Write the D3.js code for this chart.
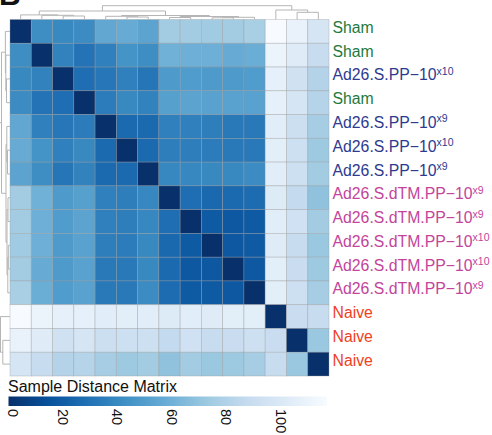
<!DOCTYPE html>
<html>
<head>
<meta charset="utf-8">
<script src="https://cdn.jsdelivr.net/npm/d3@7"></script>
<style>
  html, body { margin: 0; padding: 0; background: #fff; }
  svg { display: block; font-family: 'Liberation Sans', Arial, Helvetica, sans-serif; }
</style>
</head>
<body>
<div id="chart"></div>
<script>
// sample order (rows == columns)
const sampleNames = [
  'Sham', 'Sham', 'Ad26.S.PP\u221210', 'Sham', 'Ad26.S.PP\u221210',
  'Ad26.S.PP\u221210', 'Ad26.S.PP\u221210', 'Ad26.S.dTM.PP\u221210', 'Ad26.S.dTM.PP\u221210',
  'Ad26.S.dTM.PP\u221210', 'Ad26.S.dTM.PP\u221210', 'Ad26.S.dTM.PP\u221210',
  'Naive', 'Naive', 'Naive',
];
const doses = ['', '', 'x10', '', 'x9', 'x10', 'x9', 'x9', 'x9', 'x10', 'x10', 'x9', '', '', ''];
const groups = [
  'Sham', 'Sham', 'PP', 'Sham', 'PP', 'PP', 'PP',
  'dTM', 'dTM', 'dTM', 'dTM', 'dTM', 'Naive', 'Naive', 'Naive',
];
const groupColors = { Sham: '#1f7a3c', PP: '#2e3a8e', dTM: '#c2449b', Naive: '#ee3f22' };

// sample distance matrix
const distances = [
  [0, 42, 40, 41, 55, 57, 53, 75, 75, 74, 75, 77, 118, 109, 97],
  [42, 0, 37, 30, 36, 45, 42, 60, 59, 59, 57, 58, 110, 103, 89],
  [40, 37, 0, 28, 32, 36, 31, 48, 49, 48, 48, 49, 107, 94, 81],
  [41, 30, 28, 0, 34, 40, 37, 51, 53, 52, 52, 52, 107, 97, 82],
  [55, 36, 32, 34, 0, 26, 26, 36, 36, 35, 33, 33, 104, 91, 76],
  [57, 45, 36, 40, 26, 0, 26, 35, 35, 34, 33, 33, 105, 92, 73],
  [53, 42, 31, 37, 26, 26, 0, 39, 39, 40, 40, 41, 104, 92, 75],
  [75, 60, 48, 51, 36, 35, 39, 0, 28, 25, 26, 27, 102, 87, 69],
  [75, 59, 49, 53, 36, 35, 39, 28, 0, 19, 18, 19, 104, 93, 75],
  [74, 59, 48, 52, 35, 34, 40, 25, 19, 0, 18, 19, 103, 89, 72],
  [75, 57, 48, 52, 33, 33, 40, 26, 18, 18, 0, 18, 105, 90, 73],
  [77, 58, 49, 52, 33, 33, 41, 27, 19, 19, 18, 0, 105, 92, 76],
  [118, 110, 107, 107, 104, 105, 104, 102, 104, 103, 105, 105, 0, 90, 89],
  [109, 103, 94, 97, 91, 92, 92, 87, 93, 89, 90, 92, 90, 0, 72],
  [97, 89, 81, 82, 76, 73, 75, 69, 75, 72, 73, 76, 89, 72, 0],
];

// clustering tree: [left, right, height]; leaves are sample indices
const tree = [
  [
    [0, [1, [2, 3, 3.5], 4.2], 4.6],
    [[4, [5, 6, 2.5], 3.2], [[7, 8, 2.0], [[9, 10, 1.7], 11, 2.2], 3.0], 4.0],
    8.5,
  ],
  [12, [13, 14, 7.2], 9.5],
  13.8,
];

const legendTicks = [0, 20, 40, 60, 80, 100];
const maxDist = 117;
const blues = ['#08306b', '#08519c', '#2171b5', '#4292c6', '#6baed6', '#9ecae1', '#c6dbef', '#deebf7', '#f7fbff'];

const width = 492;
const height = 435;
const heat = { left: 10, right: 329, top: 19.5, bottom: 376 };

const svg = d3
  .select('#chart')
  .append('svg')
  .attr('width', width)
  .attr('height', height);

const x = d3.scaleBand().domain(d3.range(sampleNames.length)).range([heat.left, heat.right]);
const y = d3.scaleBand().domain(d3.range(sampleNames.length)).range([heat.top, heat.bottom]);

const color = d3
  .scaleLinear()
  .domain(blues.map((d, i) => (i * maxDist) / (blues.length - 1)))
  .range(blues)
  .interpolate(d3.interpolateRgb)
  .clamp(true);

function renderHeatmap() {
  const cells = distances.flatMap((row, i) => row.map((v, j) => ({ i, j, v })));
  svg
    .append('g')
    .attr('class', 'cells')
    .selectAll('rect')
    .data(cells)
    .join('rect')
    .attr('x', (d) => x(d.j))
    .attr('y', (d) => y(d.i))
    .attr('width', x.bandwidth())
    .attr('height', y.bandwidth())
    .attr('fill', (d) => color(d.v))
    .attr('stroke', '#9a9a9a')
    .attr('stroke-opacity', 0.5)
    .attr('stroke-width', 0.7);
}

function renderLabels() {
  svg
    .append('g')
    .attr('class', 'row-labels')
    .selectAll('text')
    .data(sampleNames)
    .join('text')
    .attr('x', heat.right + 3.5)
    .attr('y', (d, i) => y(i) + y.bandwidth() / 2 - 4)
    .attr('dy', '0.35em')
    .attr('font-size', 15.8)
    .attr('fill', (d, i) => groupColors[groups[i]])
    .each(function (d, i) {
      const t = d3.select(this);
      t.append('tspan').text(d);
      if (doses[i]) {
        t.append('tspan').attr('font-size', 10.5).attr('dy', -5.5).text(doses[i]);
      }
    });
}

function renderDendrograms() {
  const segs = [];
  // positions in band-index units
  function walk(node) {
    if (typeof node === 'number') return { pos: node + 0.5, h: 0 };
    const [a, b, h] = node;
    const l = walk(a);
    const r = walk(b);
    segs.push([l.pos, l.h, l.pos, h]);
    segs.push([r.pos, r.h, r.pos, h]);
    segs.push([l.pos, h, r.pos, h]);
    return { pos: (l.pos + r.pos) / 2, h };
  }
  walk(tree);

  const colPos = d3.scaleLinear().domain([0, sampleNames.length]).range([heat.left, heat.right]);
  const rowPos = d3.scaleLinear().domain([0, sampleNames.length]).range([heat.top, heat.bottom]);
  const colH = d3.scaleLinear().domain([0, 13.8]).range([heat.top, 5.7]);
  const rowH = d3.scaleLinear().domain([0, 13.8]).range([heat.left, heat.left - 13.8]);

  svg
    .append('g')
    .attr('class', 'col-tree')
    .selectAll('line')
    .data(segs)
    .join('line')
    .attr('x1', (d) => colPos(d[0]))
    .attr('y1', (d) => colH(d[1]))
    .attr('x2', (d) => colPos(d[2]))
    .attr('y2', (d) => colH(d[3]))
    .attr('stroke', '#b5b5b5')
    .attr('stroke-width', 1);

  svg
    .append('g')
    .attr('class', 'row-tree')
    .selectAll('line')
    .data(segs)
    .join('line')
    .attr('y1', (d) => rowPos(d[0]))
    .attr('x1', (d) => rowH(d[1]))
    .attr('y2', (d) => rowPos(d[2]))
    .attr('x2', (d) => rowH(d[3]))
    .attr('stroke', '#b5b5b5')
    .attr('stroke-width', 1);
}

function renderLegend() {
  const lx = d3.scaleLinear().domain([0, maxDist]).range([8.5, 327]);

  const grad = svg
    .append('defs')
    .append('linearGradient')
    .attr('id', 'dist-grad')
    .attr('x1', '0%')
    .attr('x2', '100%');
  grad
    .selectAll('stop')
    .data(blues)
    .join('stop')
    .attr('offset', (d, i) => `${(i / (blues.length - 1)) * 100}%`)
    .attr('stop-color', (d) => d);

  svg
    .append('text')
    .attr('x', 8)
    .attr('y', 392)
    .attr('font-size', 16)
    .attr('fill', '#111')
    .text('Sample Distance Matrix');

  svg
    .append('rect')
    .attr('x', lx(0))
    .attr('y', 396.5)
    .attr('width', lx(maxDist) - lx(0))
    .attr('height', 9.5)
    .attr('fill', 'url(#dist-grad)');

  svg
    .append('g')
    .attr('class', 'legend-ticks')
    .selectAll('text')
    .data(legendTicks)
    .join('text')
    .attr('transform', (d) => `translate(${lx(d) + (d === 0 ? 4 : 0)}, 409) rotate(90)`)
    .attr('dominant-baseline', 'central')
    .attr('font-size', 14.5)
    .attr('fill', '#111')
    .text((d) => d);
}

// panel letter, cut off at the top as in the figure
svg
  .append('text')
  .attr('x', -1)
  .attr('y', 5)
  .attr('font-size', 30)
  .attr('font-weight', 'bold')
  .attr('fill', '#111')
  .text('B');

renderHeatmap();
renderDendrograms();
renderLabels();
renderLegend();
</script>
</body>
</html>
